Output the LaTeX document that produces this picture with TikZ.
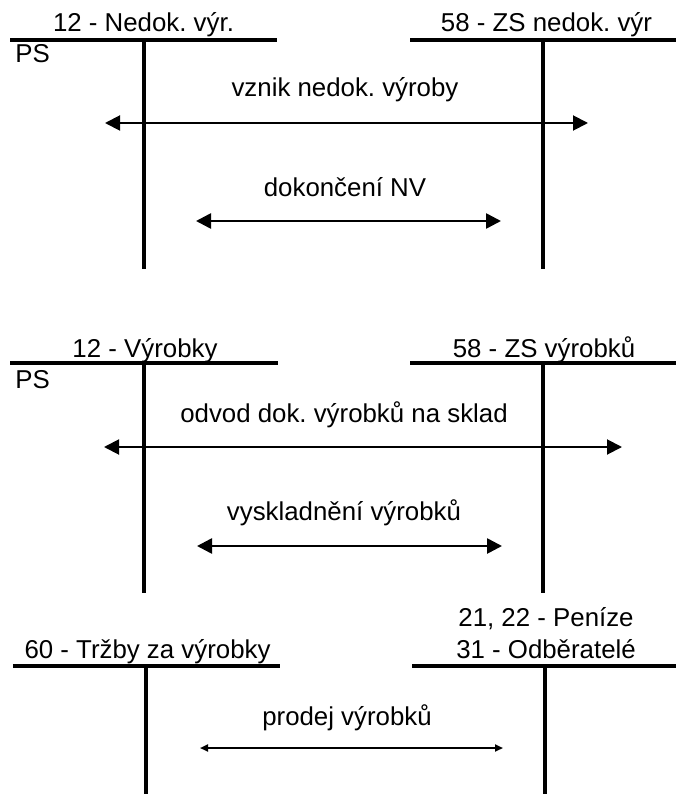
\documentclass[tikz,border=0pt]{standalone}
\usepackage{fontspec}
\setmainfont{Liberation Sans}
\usetikzlibrary{arrows.meta}
\frenchspacing

\begin{document}
\begin{tikzpicture}[
    account/.style={line width=1.8pt},
    title/.style={
        anchor=base, inner sep=0pt, align=center,
        font=\fontsize{14.7}{18.1}\selectfont
    },
    note/.style={anchor=base, inner sep=0pt, font=\fontsize{14.7}{18.1}\selectfont},
    posting/.style={{Triangle[length=0.3cm,width=0.3cm]}-{Triangle[length=0.3cm,width=0.3cm]}, line width=1.1pt},
    closing/.style={{Triangle[length=0.3cm,width=0.3cm]}-{Triangle[length=0.3cm,width=0.3cm]}, line width=1.5pt},
    sale/.style={{Triangle[length=0.16cm,width=0.14cm]}-{Triangle[length=0.16cm,width=0.14cm]}, line width=1.1pt}
]
\useasboundingbox (0,0) rectangle (13.52,-15.88);

% Nedokoncena vyroba
\node[title] (nvA) at (2.87,-0.64) {12 - Nedok. výr.};
\node[title] (nvB) at (10.93,-0.64) {58 - ZS nedok. výr};
\draw[account] (0.2,-0.8) -- (5.54,-0.8);
\draw[account] (2.88,-0.8) -- (2.88,-5.38);
\draw[account] (8.2,-0.8) -- (13.52,-0.8);
\draw[account] (10.86,-0.8) -- (10.86,-5.38);
\node[note, anchor=base west] (nvPS) at (0.3,-1.26) {PS};

\node[note] (nvVznik) at (6.9,-1.94) {vznik nedok. výroby};
\coordinate (nvVznikL) at (2.1,-2.46);
\coordinate (nvVznikR) at (11.76,-2.46);
\draw[posting] (nvVznikL) -- (nvVznikR);

\node[note] (nvDokonceni) at (6.9,-3.94) {dokončení NV};
\coordinate (nvDokonceniL) at (3.92,-4.42);
\coordinate (nvDokonceniR) at (10.02,-4.42);
\draw[closing] (nvDokonceniL) -- (nvDokonceniR);

% Vyrobky
\node[title] (vyA) at (2.9,-7.14) {12 - Výrobky};
\node[title] (vyB) at (10.88,-7.14) {58 - ZS výrobků};
\draw[account] (0.2,-7.26) -- (5.56,-7.26);
\draw[account] (2.88,-7.26) -- (2.88,-11.86);
\draw[account] (8.2,-7.26) -- (13.52,-7.26);
\draw[account] (10.86,-7.26) -- (10.86,-11.86);
\node[note, anchor=base west] (vyPS) at (0.3,-7.76) {PS};

\node[note] (vyOdvod) at (6.88,-8.44) {odvod dok. výrobků na sklad};
\coordinate (vyOdvodL) at (2.08,-8.94);
\coordinate (vyOdvodR) at (12.44,-8.94);
\draw[posting] (vyOdvodL) -- (vyOdvodR);

\node[note] (vyVysklad) at (6.88,-10.4) {vyskladnění výrobků};
\coordinate (vyVyskladL) at (3.94,-10.92);
\coordinate (vyVyskladR) at (10.04,-10.92);
\draw[closing] (vyVyskladL) -- (vyVyskladR);

% Trzby
\node[title] (trA) at (2.95,-13.16) {60 - Tržby za výrobky};
\node[title] (trB) at (10.92,-13.16) {21, 22 - Peníze\\31 - Odběratelé};
\draw[account] (0.26,-13.32) -- (5.6,-13.32);
\draw[account] (2.92,-13.32) -- (2.92,-15.88);
\draw[account] (8.24,-13.32) -- (13.52,-13.32);
\draw[account] (10.9,-13.32) -- (10.9,-15.88);

\node[note] (trProdej) at (6.94,-14.5) {prodej výrobků};
\coordinate (trProdejL) at (4.0,-14.96);
\coordinate (trProdejR) at (10.06,-14.96);
\draw[sale] (trProdejL) -- (trProdejR);

\end{tikzpicture}
\end{document}
